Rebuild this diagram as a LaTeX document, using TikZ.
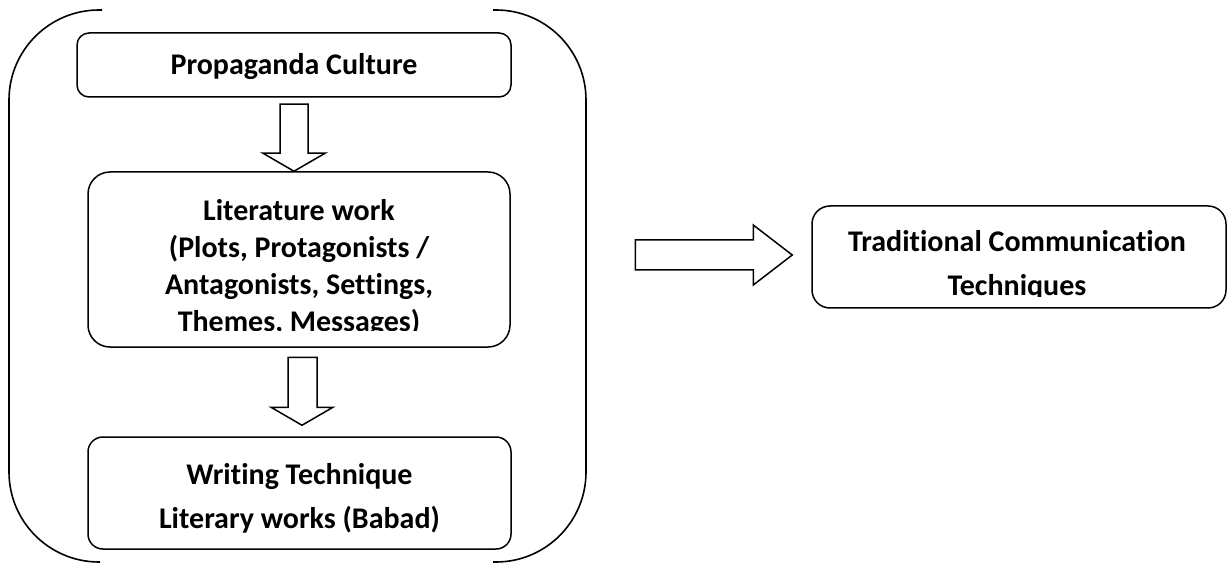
\documentclass[tikz,border=0pt]{standalone}
\usepackage{fontspec}
\setmainfont{Carlito}[Ligatures=NoCommon]
\usetikzlibrary{calc}

\begin{document}
\begin{tikzpicture}[x=1pt,y=-1pt,%
      roundbox/.style={draw,line width=1.5pt,rounded corners=#1,inner sep=0pt},
      boxtext/.style={font=\bfseries\fontsize{30}{36}\selectfont,align=center,inner sep=0pt},
      blockarrow/.style={draw,line width=1.5pt,fill=white,line join=miter},
      bracket/.style={draw,line width=1.6pt,rounded corners=90pt}]
    \useasboundingbox (0,0) rectangle (1227,564);
    % double bracket round the left part
    \draw[bracket] (102,10) -- (9,10) -- (9,562) -- (100,562);
    \draw[bracket] (493,10) -- (586,10) -- (586,562) -- (493,562);
    % boxes
    \node[roundbox=12pt,minimum width=434pt,minimum height=64pt] (prop) at (294,65) {};
    \node[roundbox=22pt,minimum width=422pt,minimum height=175pt] (lit) at (299,259.5) {};
    \node[roundbox=15pt,minimum width=423pt,minimum height=112pt] (wri) at (299.5,493) {};
    \node[roundbox=18pt,minimum width=414pt,minimum height=102pt] (trad) at (1019,257) {};
    % texts
    \node[boxtext,anchor=base] (proptext) at (294,75) {Propaganda Culture};
    \begin{scope}
      \clip (lit.north west) rectangle ([yshift=17pt]lit.south east);
      \node[boxtext,anchor=north,font=\bfseries\fontsize{30}{36.8}\selectfont] (littext) at (299,199.5)
        {Literature work\\(Plots, Protagonists /\\Antagonists, Settings,\\Themes, Messages)};
    \end{scope}
    \node[boxtext,anchor=north,font=\bfseries\fontsize{30}{44}\selectfont] (writext) at (299.5,463.5)
      {Writing Technique\\Literary works (Babad)};
    \begin{scope}
      \clip (trad.north west) rectangle ([yshift=12pt]trad.south east);
      \node[boxtext,anchor=north,font=\bfseries\fontsize{30}{44}\selectfont] (tradtext) at (1017,230.5)
        {Traditional Communication\\Techniques};
    \end{scope}
    % block arrows
    \draw[blockarrow] ($(lit.north)+(-5,0)$) -- ++(31,-18) -- ++(-17,0) -- ++(0,-49)
      -- ++(-28,0) -- ++(0,49) -- ++(-17,0) -- cycle;
    \draw[blockarrow] ($(wri.north)+(2.5,-11)$) -- ++(31,-18) -- ++(-16,0) -- ++(0,-50)
      -- ++(-29,0) -- ++(0,50) -- ++(-17,0) -- cycle;
    \draw[blockarrow] ($(trad.west)+(-19,-2)$) -- ++(-39,-30) -- ++(0,15) -- ++(-118,0)
      -- ++(0,30) -- ++(118,0) -- ++(0,15) -- cycle;
  \end{tikzpicture}
\end{document}
